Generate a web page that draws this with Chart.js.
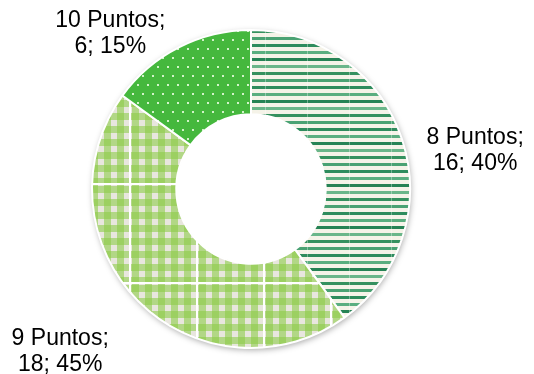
<!DOCTYPE html>
<html>
<head>
<meta charset="utf-8">
<script src="https://cdn.jsdelivr.net/npm/chart.js@4/dist/chart.umd.min.js"></script>
<style>
  html, body { margin: 0; padding: 0; background: #ffffff; }
  #wrap { width: 534px; height: 374px; position: relative; }
</style>
</head>
<body>
<div id="wrap"><canvas id="c" width="534" height="374"></canvas></div>
<script>
// ---- data ----
const categories = ['8 Puntos', '9 Puntos', '10 Puntos'];
const values = [16, 18, 6];

// ---- label placement (relative to ring centre, in units of outer radius) ----
const labelPlacement = [
  { dx: 1.41, dy: -0.20 },
  { dx: -1.20, dy: 1.06 },
  { dx: -0.885, dy: -0.94 }
];

function makeTile(w, h, draw) {
  const c = document.createElement('canvas');
  c.width = w; c.height = h;
  draw(c.getContext('2d'), w, h);
  return c;
}

const ctx0 = document.getElementById('c').getContext('2d');

// Stripes (8 Puntos)
const stripeTile = makeTile(42, 42, (g, w, h) => {
  g.fillStyle = '#f5f3e8';
  g.fillRect(0, 0, w, h);
  const shades = ['#2e8c5d', '#5aae80', '#268355', '#6ab68a', '#35915f', '#4aa273'];
  for (let k = 0; k < 6; k++) {
    g.fillStyle = shades[k % shades.length];
    g.fillRect(0, k * 7 + 2, w, 3);
  }
  g.fillStyle = 'rgba(255,255,255,0.35)';
  g.fillRect(0, 0, 1, h);
});
const stripePattern = ctx0.createPattern(stripeTile, 'repeat');
stripePattern.setTransform(new DOMMatrix().translate(265, 0));

// Gingham (9 Puntos)
const ginghamTile = makeTile(67, 99, (g, w, h) => {
  g.fillStyle = '#e8e6de';
  g.fillRect(0, 0, w, h);
  g.fillStyle = 'rgba(140,203,70,0.58)';
  for (let x = 3; x < w; x += 13) g.fillRect(x, 0, 7, h);
  for (let y = 3; y < h; y += 13) g.fillRect(0, y, w, 7);
  g.fillStyle = '#ffffff';
  g.fillRect(0, 0, 2, h);
  g.fillRect(0, 0, w, 2);
});
const ginghamPattern = ctx0.createPattern(ginghamTile, 'repeat');
ginghamPattern.setTransform(new DOMMatrix().translate(62, 84));

// Polka dots (10 Puntos)
const dotTile = makeTile(10, 18, (g, w, h) => {
  g.fillStyle = '#45b83d';
  g.fillRect(0, 0, w, h);
  g.fillStyle = 'rgba(225,250,215,0.9)';
  g.fillRect(2, 3, 2, 2);
  g.fillRect(7, 12, 2, 2);
});
const dotPattern = ctx0.createPattern(dotTile, 'repeat');

const ringShadow = {
  id: 'ringShadow',
  beforeDatasetsDraw(chart) {
    const meta = chart.getDatasetMeta(0);
    const a = meta.data[0];
    if (!a) return;
    const { x, y, outerRadius } = a.getProps(['x', 'y', 'outerRadius'], true);
    const g = chart.ctx;
    g.save();
    g.shadowColor = 'rgba(0,0,0,0.35)';
    g.shadowBlur = 6;
    g.shadowOffsetX = 1;
    g.shadowOffsetY = 2;
    g.fillStyle = '#ffffff';
    g.beginPath();
    g.arc(x, y, outerRadius, 0, Math.PI * 2);
    g.fill();
    g.restore();
  }
};

const sliceLabels = {
  id: 'sliceLabels',
  afterDatasetsDraw(chart) {
    const meta = chart.getDatasetMeta(0);
    const data = chart.data.datasets[0].data;
    const total = data.reduce((s, v) => s + v, 0);
    const g = chart.ctx;
    g.save();
    g.font = '23px "Liberation Sans", Arial, sans-serif';
    g.fillStyle = '#000000';
    g.textAlign = 'center';
    g.textBaseline = 'alphabetic';
    meta.data.forEach((arc, i) => {
      const { x, y, outerRadius } = arc.getProps(['x', 'y', 'outerRadius'], true);
      const p = labelPlacement[i];
      const lx = x + p.dx * outerRadius;
      const ly = y + p.dy * outerRadius;
      const pct = Math.round(data[i] / total * 100);
      g.fillText(chart.data.labels[i] + ';', lx, ly - 13);
      g.fillText(data[i] + '; ' + pct + '%', lx, ly + 13);
    });
    g.restore();
  }
};

new Chart(document.getElementById('c'), {
  type: 'doughnut',
  data: {
    labels: categories,
    datasets: [{
      data: values,
      backgroundColor: [stripePattern, ginghamPattern, dotPattern],
      borderColor: '#ffffff',
      borderWidth: 2,
      hoverOffset: 0
    }]
  },
  options: {
    responsive: false,
    animation: false,
    cutout: '47%',
    rotation: 0,
    layout: { padding: { left: 91, right: 123, top: 29, bottom: 25 } },
    plugins: {
      legend: { display: false },
      tooltip: { enabled: false }
    }
  },
  plugins: [ringShadow, sliceLabels]
});
</script>
</body>
</html>
